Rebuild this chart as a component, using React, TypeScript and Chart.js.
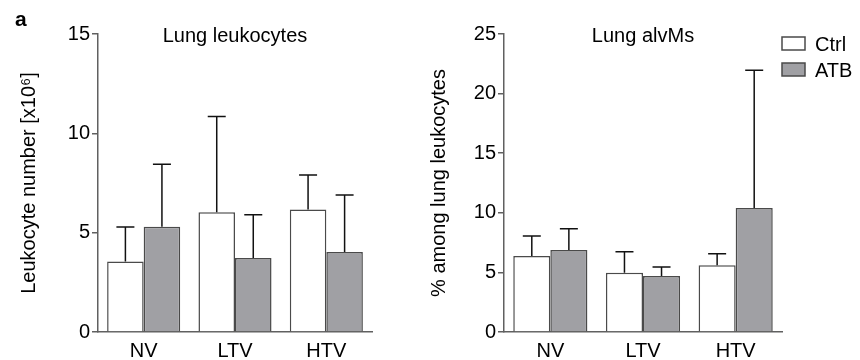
import React, { useEffect, useRef } from "react";
import { Chart, registerables } from "chart.js";

Chart.register(...registerables);

// ---- data ----
const categories = ["NV", "LTV", "HTV"];
const seriesNames = ["Ctrl", "ATB"];

const leukoCtrl = [3.55, 6.03, 6.17];
const leukoCtrlErr = [1.74, 4.82, 1.73];
const leukoAtb = [5.3, 3.72, 4.03];
const leukoAtbErr = [3.14, 2.18, 2.87];

const alvCtrl = [6.37, 4.98, 5.6];
const alvCtrlErr = [1.68, 1.76, 0.97];
const alvAtb = [6.88, 4.7, 10.4];
const alvAtbErr = [1.79, 0.75, 11.55];

const leukoTicks = [0, 5, 10, 15];
const alvTicks = [0, 5, 10, 15, 20, 25];

const FONT = "'Liberation Sans', Arial, Helvetica, sans-serif";
const WHITE = "#ffffff";
const GRAY = "#a0a0a4";
const BAR_BORDER = "#4a4a4a";
const AXIS = "#606060";

const errorBarPlugin = {
  id: "errorBars",
  afterDatasetsDraw(chart: any) {
    const { ctx } = chart;
    const y = chart.scales.y;
    chart.data.datasets.forEach((ds: any, i: number) => {
      const meta = chart.getDatasetMeta(i);
      meta.data.forEach((bar: any, j: number) => {
        const v = ds.data[j];
        const e = ds.errors[j];
        const base = y.getPixelForValue(v);
        const top = y.getPixelForValue(v + e);
        ctx.save();
        ctx.strokeStyle = "#111";
        ctx.lineWidth = 1.5;
        ctx.beginPath();
        ctx.moveTo(bar.x, base);
        ctx.lineTo(bar.x, top);
        ctx.moveTo(bar.x - 9, top);
        ctx.lineTo(bar.x + 9, top);
        ctx.stroke();
        ctx.restore();
      });
    });
  },
};

const decorPlugin = {
  id: "decor",
  afterDraw(chart: any, _args: any, opts: any) {
    const { ctx, chartArea } = chart;
    ctx.save();
    ctx.fillStyle = "#000";
    ctx.textBaseline = "alphabetic";
    if (opts.title) {
      ctx.font = `20px ${FONT}`;
      ctx.textAlign = "center";
      ctx.fillText(opts.title, (chartArea.left + chartArea.right) / 2, 42);
    }
    if (opts.panel) {
      ctx.font = `bold 21px ${FONT}`;
      ctx.textAlign = "left";
      ctx.fillText(opts.panel, 15, 26);
    }
    if (opts.legend) {
      const x0 = chartArea.right;
      chart.data.datasets.forEach((ds: any, i: number) => {
        const by = 37 + i * 26;
        ctx.fillStyle = ds.backgroundColor;
        ctx.fillRect(x0, by, 23, 13);
        ctx.strokeStyle = BAR_BORDER;
        ctx.lineWidth = 1.5;
        ctx.strokeRect(x0, by, 23, 13);
        ctx.fillStyle = "#000";
        ctx.font = `20px ${FONT}`;
        ctx.textAlign = "left";
        ctx.fillText(ds.label, x0 + 33, by + 13.5);
      });
    }
    ctx.restore();
  },
};

function makeConfig(
  ctrl: number[],
  ctrlErr: number[],
  atb: number[],
  atbErr: number[],
  ticks: number[],
  yTitle: string,
  title: string,
  axisWidth: number,
  rightPad: number,
  yTitlePad: number,
  panel: string,
  legend: boolean
): any {
  return {
    type: "bar",
    data: {
      labels: categories,
      datasets: [
        {
          label: seriesNames[0],
          data: ctrl,
          errors: ctrlErr,
          backgroundColor: WHITE,
          borderColor: BAR_BORDER,
          borderWidth: 1.5,
          categoryPercentage: 0.8,
          barPercentage: 1.0,
        },
        {
          label: seriesNames[1],
          data: atb,
          errors: atbErr,
          backgroundColor: GRAY,
          borderColor: BAR_BORDER,
          borderWidth: 1.5,
          categoryPercentage: 0.8,
          barPercentage: 1.0,
        },
      ],
    },
    options: {
      responsive: false,
      animation: false,
      devicePixelRatio: 1,
      layout: { padding: { top: 34, left: 0, right: rightPad, bottom: 0 } },
      plugins: {
        legend: { display: false },
        tooltip: { enabled: false },
        title: { display: false },
        decor: { title, panel, legend },
      },
      scales: {
        x: {
          grid: { display: false, drawTicks: false },
          border: { display: true, color: AXIS, width: 1.5 },
          ticks: { color: "#000", font: { family: FONT, size: 20 }, padding: 7 },
          afterFit: (s: any) => {
            s.height = 28;
          },
        },
        y: {
          min: ticks[0],
          max: ticks[ticks.length - 1],
          afterBuildTicks: (s: any) => {
            s.ticks = ticks.map((v) => ({ value: v }));
          },
          grid: {
            display: true,
            drawOnChartArea: false,
            drawTicks: true,
            tickLength: 6,
            color: AXIS,
            lineWidth: 1.5,
          },
          border: { display: true, color: AXIS, width: 1.5 },
          ticks: { color: "#000", font: { family: FONT, size: 20 }, padding: 2 },
          title: {
            display: true,
            text: yTitle,
            color: "#000",
            font: { family: FONT, size: 20 },
            padding: { top: yTitlePad, bottom: 0 },
          },
          afterFit: (s: any) => {
            s.width = axisWidth;
          },
        },
      },
    },
    plugins: [errorBarPlugin, decorPlugin],
  };
}

function Panel(props: { config: any; left: number; width: number }) {
  const ref = useRef<HTMLCanvasElement | null>(null);
  useEffect(() => {
    if (!ref.current) return;
    const chart = new Chart(ref.current, props.config);
    return () => chart.destroy();
  }, []);
  return (
    <canvas
      ref={ref}
      width={props.width}
      height={360}
      style={{ position: "absolute", left: props.left, top: 0, width: props.width, height: 360 }}
    />
  );
}

export default function App() {
  const leftCfg = makeConfig(
    leukoCtrl,
    leukoCtrlErr,
    leukoAtb,
    leukoAtbErr,
    leukoTicks,
    "Leukocyte number [x10\u2076]",
    "Lung leukocytes",
    98,
    28,
    17,
    "a",
    false
  );
  const rightCfg = makeConfig(
    alvCtrl,
    alvCtrlErr,
    alvAtb,
    alvAtbErr,
    alvTicks,
    "% among lung leukocytes",
    "Lung alvMs",
    104,
    78,
    27,
    "",
    true
  );
  return (
    <div style={{ position: "absolute", left: 0, top: 0, width: 860, height: 360, background: "#fff" }}>
      <Panel config={leftCfg} left={0} width={400} />
      <Panel config={rightCfg} left={400} width={460} />
    </div>
  );
}
